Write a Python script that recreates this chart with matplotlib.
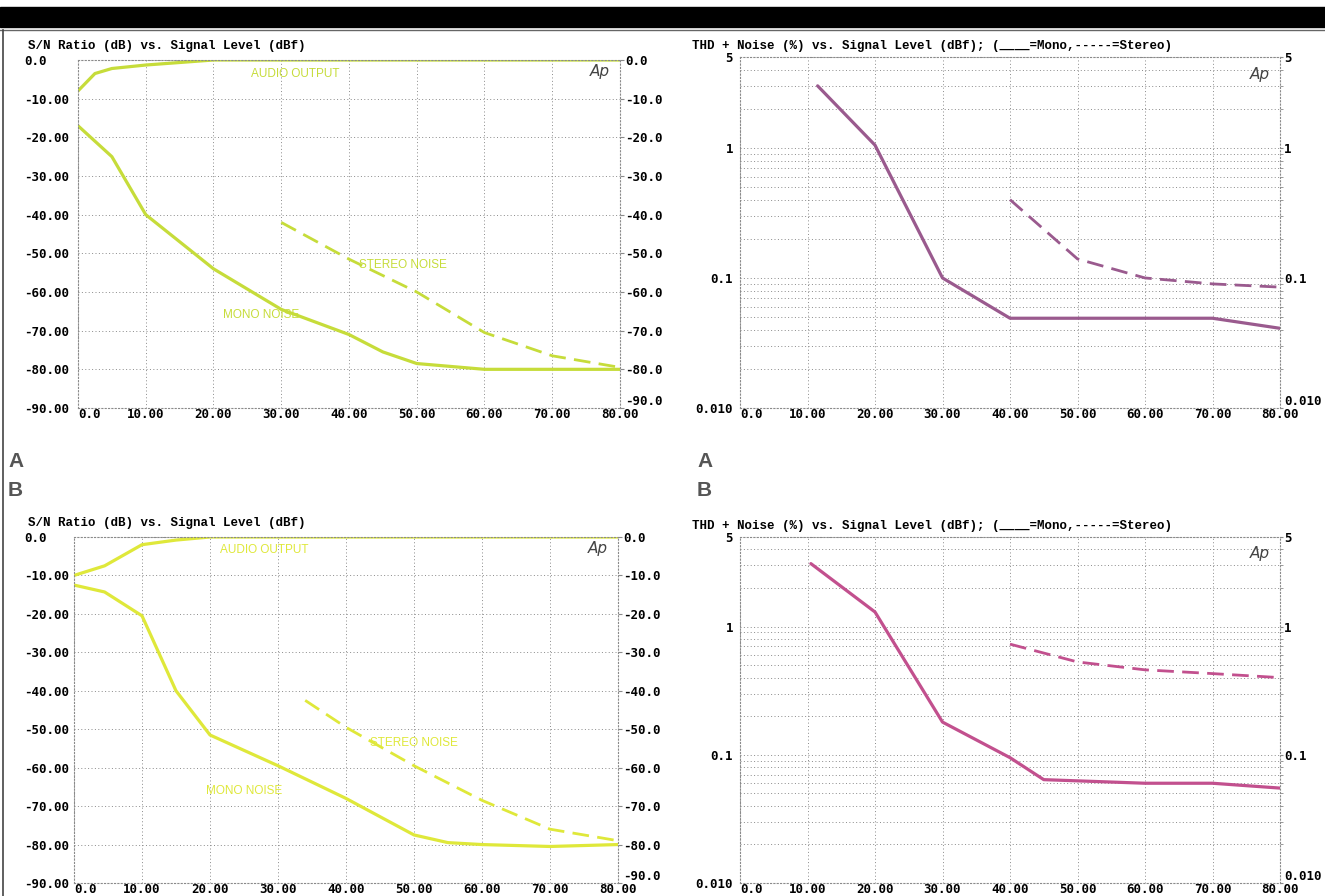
import numpy as np
import matplotlib.pyplot as plt
from matplotlib.patches import Rectangle
from matplotlib.lines import Line2D

# ---- data ----
# panel A (top): S/N ratio
lvl_audio_a = [0, 2.5, 5, 10, 20, 30, 40, 50, 60, 70, 80]
audio_a = [-8, -3.5, -2.2, -1.3, 0, 0, 0, 0, 0, 0, 0]
lvl_mono_a = [0, 5, 10, 20, 30, 40, 45, 50, 60, 70, 80]
mono_a = [-17, -25, -40, -54, -64.5, -71, -75.5, -78.5, -80, -80, -80]
lvl_stereo_a = [30, 40, 50, 60, 70, 80]
stereo_a = [-42, -51.5, -60, -70.5, -76.5, -79.5]

# panel A (top): THD+N
lvl_thd_mono_a = [11.5, 20, 30, 40, 70, 80]
thd_mono_a = [3.0, 1.05, 0.1, 0.049, 0.049, 0.041]
lvl_thd_st_a = [40, 50, 60, 70, 80]
thd_st_a = [0.4, 0.14, 0.1, 0.09, 0.085]

# panel B (bottom): S/N ratio
lvl_audio_b = [0, 4.5, 10, 15, 20, 30, 40, 50, 60, 70, 80]
audio_b = [-10, -7.5, -2, -0.8, 0, 0, 0, 0, 0, 0, 0]
lvl_mono_b = [0, 4.5, 10, 15, 20, 30, 40, 50, 55, 60, 70, 80]
mono_b = [-12.5, -14.3, -20.5, -40, -51.5, -59.5, -68, -77.5, -79.5, -80, -80.5, -80]
lvl_stereo_b = [34, 40, 50, 60, 70, 80]
stereo_b = [-42.5, -49.5, -59.5, -68.5, -76, -79]

# panel B (bottom): THD+N
lvl_thd_mono_b = [10.5, 20, 30, 40, 45, 60, 70, 80]
thd_mono_b = [3.1, 1.3, 0.18, 0.095, 0.064, 0.06, 0.06, 0.055]
lvl_thd_st_b = [40, 50, 60, 70, 80]
thd_st_b = [0.73, 0.53, 0.46, 0.43, 0.40]

x_ticks = [0, 10, 20, 30, 40, 50, 60, 70, 80]
x_labels = ["0.0", "10.00", "20.00", "30.00", "40.00", "50.00", "60.00", "70.00", "80.00"]
sn_ticks = [0, -10, -20, -30, -40, -50, -60, -70, -80, -90]
sn_left = ["0.0"] + ["%.2f" % v for v in sn_ticks[1:]]
sn_right = ["0.0"] + ["%.1f" % v for v in sn_ticks[1:]]
thd_ticks = [5, 1, 0.1, 0.01]
thd_labels = ["5", "1", "0.1", "0.010"]

W, H = 1325, 896
fig = plt.figure(figsize=(W / 100, H / 100), dpi=100)
fig.patch.set_facecolor("white")

tick_font = dict(family="DejaVu Sans Mono", weight="bold", size=9)
grid_kw = dict(color="#8a8a8a", linestyle=(0, (1, 2.5)), linewidth=0.7)


def box(x0, y0, x1, y1):
    # pixel box (top-left origin) -> figure fraction
    return [x0 / W, 1 - y1 / H, (x1 - x0) / W, (y1 - y0) / H]


def style_axes(ax):
    for s in ax.spines.values():
        s.set_color("#8a8a8a")
        s.set_linestyle((0, (1, 2)))
        s.set_linewidth(0.8)
    ax.set_xlim(0, 80)
    ax.set_xticks(x_ticks)
    ax.set_xticklabels(x_labels, **tick_font)
    ax.tick_params(axis="x", length=0, pad=5)
    labs = ax.get_xticklabels()
    for lab in labs:
        lab.set_va("center")
    labs[0].set_ha("left")


def right_labels(ax2):
    for sp in ax2.spines.values():
        sp.set_visible(False)
    # lowest right-hand label sits raised, as on the analyzer printout
    lab = ax2.get_yticklabels()
    lab[-1 if lab[-1].get_text() in ("-90.0",) else 0].set_va("bottom")


def sn_panel(rect, lvl_audio, audio, lvl_mono, mono, lvl_st, st, color,
             title, txt_audio, txt_st, txt_mono):
    ax = fig.add_axes(box(*rect))
    style_axes(ax)
    ax.set_ylim(-90, 0)
    ax.set_yticks(sn_ticks)
    ax.set_yticklabels(sn_left, **tick_font)
    ax.tick_params(axis="y", length=0, pad=(rect[0] - 24) * 0.72)
    for lab in ax.get_yticklabels():
        lab.set_ha("left")
    ax.grid(True, **grid_kw)
    ax.plot(lvl_audio, audio, color=color, lw=2.3, solid_capstyle="round")
    ax.plot(lvl_mono, mono, color=color, lw=2.3, solid_capstyle="round")
    ax.plot(lvl_st, st, color=color, lw=2.0, dashes=(6, 3))
    ax.text(*txt_audio, "AUDIO OUTPUT", color=color, fontsize=8.5,
            family="Liberation Sans", ha="center", va="center")
    ax.text(*txt_st, "STEREO NOISE", color=color, fontsize=8.5,
            family="Liberation Sans", ha="center", va="center")
    ax.text(*txt_mono, "MONO NOISE", color=color, fontsize=8.5,
            family="Liberation Sans", ha="center", va="center")
    ax.text(78.5, -3, "Ap", style="italic", fontsize=11, color="#444444",
            family="DejaVu Sans", ha="right", va="center")
    ax2 = ax.twinx()
    ax2.set_ylim(-90, 0)
    ax2.set_yticks(sn_ticks)
    ax2.set_yticklabels(sn_right, **tick_font)
    ax2.tick_params(axis="y", length=3, color="#8a8a8a", pad=1)
    for sp in ax2.spines.values():
        sp.set_visible(False)
    ax2.get_yticklabels()[-1].set_va("bottom")
    fig.text(28 / W, 1 - (rect[1] - 14) / H, title, family="Liberation Mono",
             weight="bold", fontsize=9, va="center")
    return ax


def thd_panel(rect, lvl_m, m, lvl_s, s, color, title):
    ax = fig.add_axes(box(*rect))
    style_axes(ax)
    ax.set_yscale("log")
    ax.set_ylim(0.01, 5)
    ax.set_yticks(thd_ticks)
    ax.set_yticklabels(thd_labels, **tick_font)
    ax.yaxis.set_minor_formatter(plt.NullFormatter())
    ax.tick_params(axis="y", which="both", length=0, pad=5)
    ax.grid(True, which="both", **grid_kw)
    ax.plot(lvl_m, m, color=color, lw=2.3, solid_capstyle="round")
    ax.plot(lvl_s, s, color=color, lw=2.0, dashes=(6, 3))
    ax.text(78.5, 3.7, "Ap", style="italic", fontsize=11, color="#444444",
            family="DejaVu Sans", ha="right", va="center")
    ax2 = ax.twinx()
    ax2.set_yscale("log")
    ax2.set_ylim(0.01, 5)
    ax2.set_yticks(thd_ticks)
    ax2.set_yticklabels(thd_labels, **tick_font)
    ax2.yaxis.set_minor_formatter(plt.NullFormatter())
    ax2.tick_params(axis="y", which="both", length=2, color="#8a8a8a", pad=1)
    for sp in ax2.spines.values():
        sp.set_visible(False)
    ax2.get_yticklabels()[-1].set_va("bottom")
    fig.text(692 / W, 1 - (rect[1] - 11) / H, title, family="Liberation Mono",
             weight="bold", fontsize=9, va="center")
    return ax


sn_title = "S/N Ratio (dB) vs. Signal Level (dBf)"
thd_title = "THD + Noise (%) vs. Signal Level (dBf); (____=Mono,-----=Stereo)"

sn_panel((78, 60, 620, 408), lvl_audio_a, audio_a, lvl_mono_a, mono_a,
         lvl_stereo_a, stereo_a, "#c6dc3a", sn_title,
         (32, -3.5), (48, -53), (27, -66))
thd_panel((740, 57, 1280, 408), lvl_thd_mono_a, thd_mono_a, lvl_thd_st_a,
          thd_st_a, "#9a5a8e", thd_title)
sn_panel((74, 537, 618, 883), lvl_audio_b, audio_b, lvl_mono_b, mono_b,
         lvl_stereo_b, stereo_b, "#dfe83a", sn_title,
         (28, -3.5), (50, -53.5), (25, -66))
thd_panel((740, 537, 1280, 883), lvl_thd_mono_b, thd_mono_b, lvl_thd_st_b,
          thd_st_b, "#c2508e", thd_title)

# page decoration: black header band, border lines, A/B keys
fig.patches.append(Rectangle((0, 1 - 27 / H), 1, 20 / H, transform=fig.transFigure,
                             color="black", zorder=0))
fig.lines.append(Line2D([0, 1], [1 - 30 / H, 1 - 30 / H], transform=fig.transFigure,
                        color="#666666", lw=1))
fig.lines.append(Line2D([3 / W, 3 / W], [0, 1 - 30 / H], transform=fig.transFigure,
                        color="#444444", lw=1.2))
for xk in (8, 697):
    fig.text(xk / W, 1 - 461 / H, "A", family="Liberation Sans", weight="bold",
             fontsize=15, color="#555555", va="center")
    fig.text(xk / W, 1 - 490 / H, "B", family="Liberation Sans", weight="bold",
             fontsize=15, color="#555555", va="center")

fig.savefig("out.png", dpi=100)
